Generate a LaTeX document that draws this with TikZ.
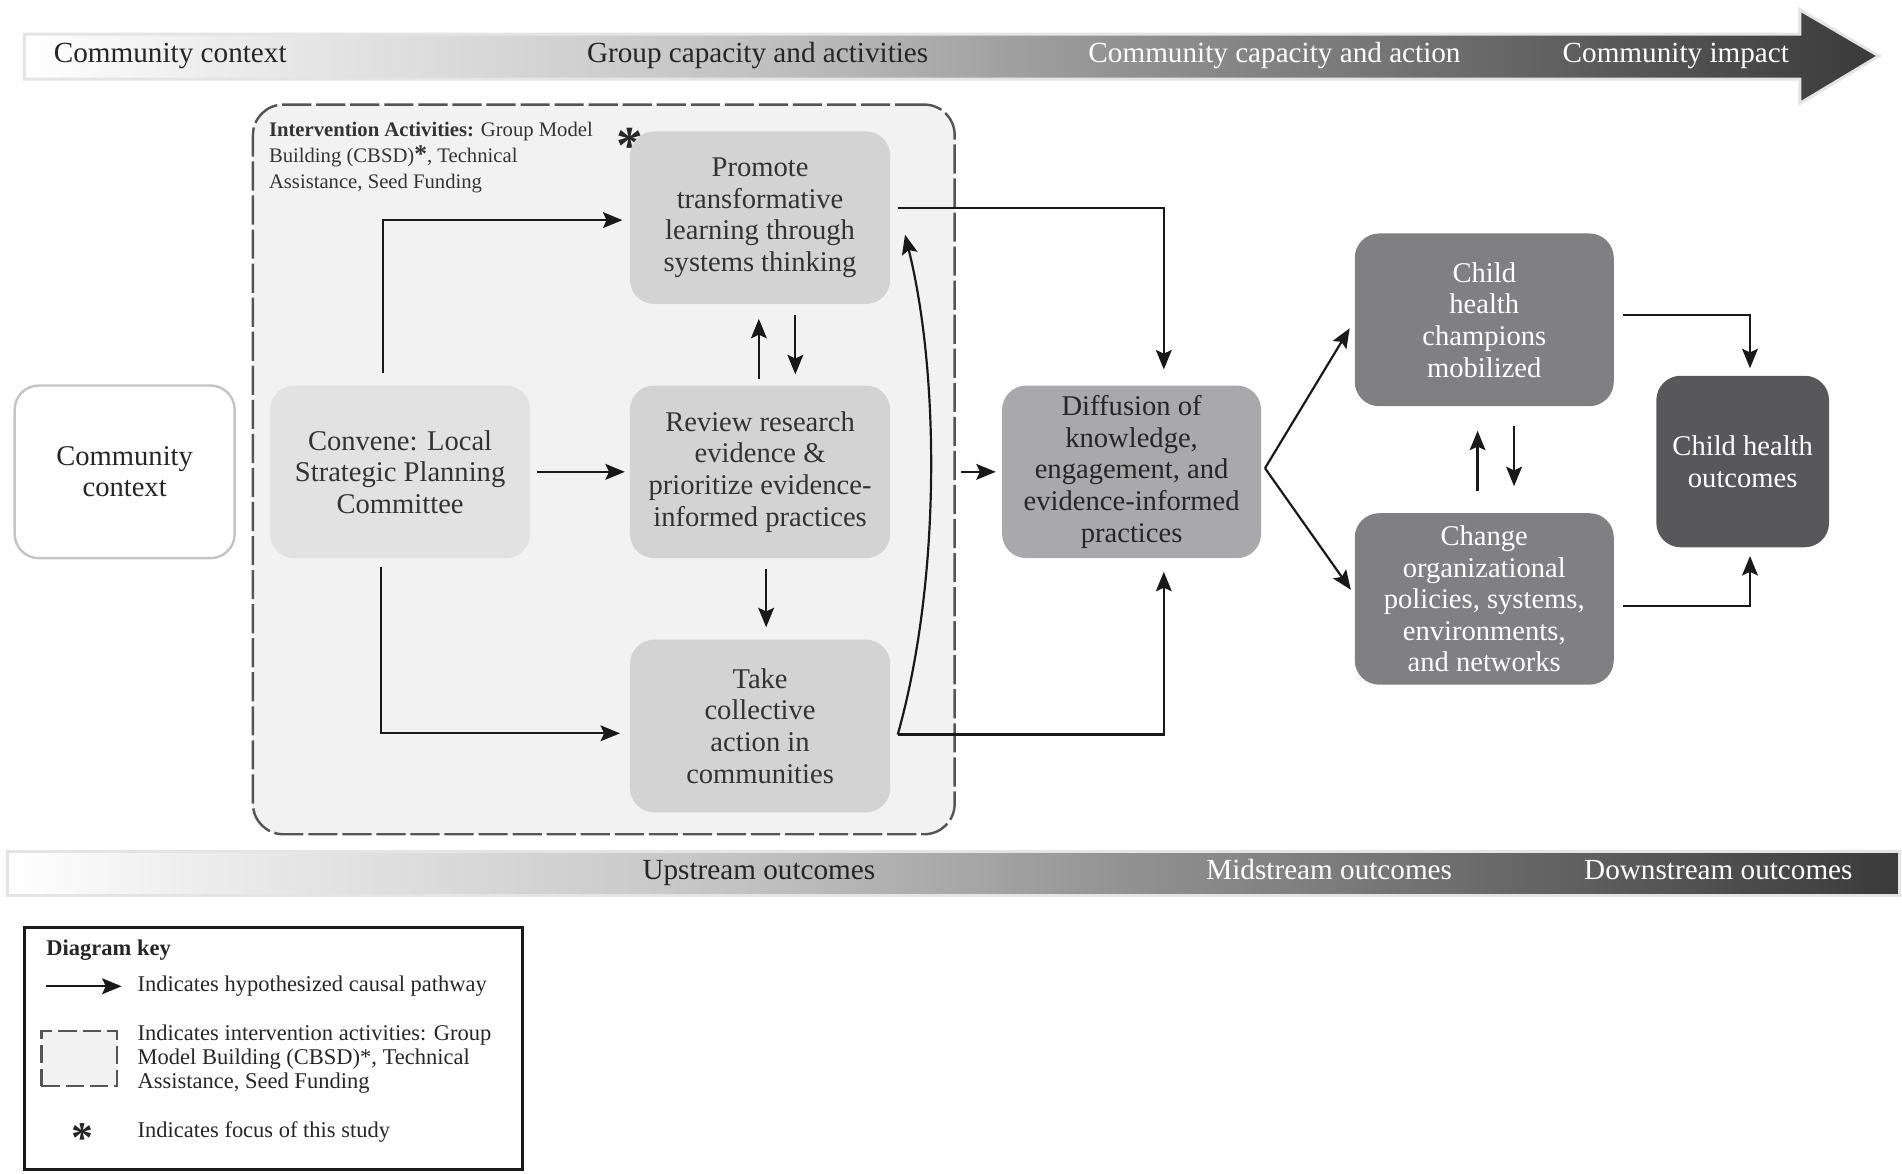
\documentclass[tikz,border=0pt]{standalone}
\usepackage{fontspec}
\setmainfont{Liberation Serif}
\usetikzlibrary{arrows.meta,calc}
\definecolor{sA}{HTML}{EDEDED}
\definecolor{sB}{HTML}{D0D0D0}
\definecolor{sC}{HTML}{C0C0C0}
\definecolor{sD}{HTML}{A8A8A8}
\definecolor{sE}{HTML}{909090}
\definecolor{sF}{HTML}{7C7C7C}
\definecolor{sG}{HTML}{666666}
\definecolor{sH}{HTML}{505050}
\definecolor{sI}{HTML}{3A3A3A}
\definecolor{barline}{HTML}{E4E4E4}
\definecolor{ibfill}{HTML}{F2F2F2}
\definecolor{ibline}{HTML}{555555}
\definecolor{convfill}{HTML}{E2E2E2}
\definecolor{lightfill}{HTML}{D3D3D3}
\definecolor{midfill}{HTML}{A9A9AB}
\definecolor{darkfill}{HTML}{808083}
\definecolor{darkestfill}{HTML}{58585A}
\definecolor{ctxline}{HTML}{C4C4C4}
\definecolor{txtdark}{HTML}{333333}
\pgfdeclarehorizontalshading{barshade}{100bp}{color(0bp)=(white); color(25bp)=(white); color(30bp)=(sA); color(40bp)=(sB); color(45bp)=(sC); color(50bp)=(sD); color(55bp)=(sE); color(60bp)=(sF); color(65bp)=(sG); color(70bp)=(sH); color(75bp)=(sI); color(100bp)=(sI)}
\newcommand\bxfont{\fontsize{23.5}{26}\selectfont}
\newcommand\barfont{\fontsize{24}{26}\selectfont}
\newcommand\hdfont{\fontsize{17}{21.5}\selectfont}
\newcommand\kyfont{\fontsize{18.5}{19.8}\selectfont}
\begin{document}
\begin{tikzpicture}[x=1pt,y=-1pt,
  flowbox/.style={rounded corners=20pt, minimum width=214pt, minimum height=142pt, inner sep=0pt, align=center, font=\bxfont},
  lightbox/.style={flowbox, fill=lightfill, text=txtdark},
  arr/.style={draw=black!90, line width=1.8pt, -{Stealth[length=16pt,width=13pt,inset=3pt]}},
  bartext/.style={font=\barfont, inner sep=0pt, text height=16pt, text depth=5pt},
  keytext/.style={font=\kyfont, anchor=west, inner sep=0pt, align=left, text=black!85}]
\useasboundingbox (0,0) rectangle (1564,965);
% top bar
\shadedraw[shading=barshade, draw=barline, line width=2.5pt, line join=miter]
  (20,28) -- (1480,28) -- (1480,8) -- (1545,46) -- (1480,85) -- (1480,65) -- (20,65) -- cycle;
\node[bartext, text=black!85] (t1) at (140,46) {Community context};
\node[bartext, text=black!85] (t2) at (623,46) {Group capacity and activities};
\node[bartext, text=white] (t3) at (1048,46) {Community capacity and action};
\node[bartext, text=white] (t4) at (1378,46) {Community impact};
% bottom bar
\shadedraw[shading=barshade, draw=barline, line width=2.5pt]
  (6,700) rectangle (1562,736);
\node[bartext, text=black!85] (b1) at (624,718) {Upstream outcomes};
\node[bartext, text=white] (b2) at (1093,718) {Midstream outcomes};
\node[bartext, text=white] (b3) at (1413,718) {Downstream outcomes};
% intervention box
\node[draw=ibline, fill=ibfill, line width=2pt, dash pattern=on 24pt off 4pt, rounded corners=25pt, minimum width=577pt, minimum height=600pt, inner sep=0pt] (ibox) at (496.5,386) {};
\node[anchor=north west, align=left, inner sep=0pt, font=\hdfont, text=black!80] (ihead) at (221,100) {\textbf{Intervention Activities:} Group Model\\Building (CBSD)\textbf{\fontsize{21}{21}\selectfont *}, Technical\\Assistance, Seed Funding};
\node[inner sep=0pt, font=\fontsize{44}{44}\selectfont\bfseries, text=black!85] (istar) at (518,120) {*};
% boxes
\node[flowbox, draw=ctxline, line width=2pt, fill=white, minimum width=181pt, text=black!85] (ctx) at (102.5,388) {Community\\context};
\node[flowbox, fill=convfill, text=txtdark] (conv) at (329,388) {Convene: Local\\Strategic Planning\\Committee};
\node[lightbox] (prom) at (625,179) {Promote\\transformative\\learning through\\systems thinking};
\node[lightbox] (rev) at (625,388) {Review research\\evidence \&\\prioritize evidence-\\informed practices};
\node[lightbox] (take) at (625,597) {Take\\collective\\action in\\communities};
\node[flowbox, fill=midfill, minimum width=213pt, text=black!85] (diff) at (930.5,388) {Diffusion of\\knowledge,\\engagement, and\\evidence-informed\\practices};
\node[flowbox, fill=darkfill, minimum width=213pt, text=white] (champ) at (1220.5,263) {Child\\health\\champions\\mobilized};
\node[flowbox, fill=darkfill, minimum width=213pt, minimum height=141pt, text=white] (change) at (1220.5,492.5) {Change\\organizational\\policies, systems,\\environments,\\and networks};
\node[flowbox, fill=darkestfill, minimum width=142pt, minimum height=141pt, text=white] (outc) at (1433,379.5) {Child health\\outcomes};
% connectors
\draw[arr, line join=miter] ([xshift=-14pt,yshift=10pt]conv.north) |- ([xshift=-6pt,yshift=-2pt]prom.west);
\draw[arr] ([xshift=5pt]conv.east) -- ([xshift=-4pt]rev.west);
\draw[arr, line join=miter] ([xshift=-16pt,yshift=-7pt]conv.south) |- ([xshift=-8pt,yshift=-6pt]take.west);
\draw[arr] ([xshift=-1pt,yshift=5pt]rev.north) -- ([xshift=-1pt,yshift=-12pt]prom.south);
\draw[arr] ([xshift=29pt,yshift=-9pt]prom.south) -- ([xshift=29pt,yshift=9pt]rev.north);
\draw[arr] ([xshift=5pt,yshift=-9pt]rev.south) -- ([xshift=5pt,yshift=10pt]take.north);
\draw[arr, line join=miter] ([xshift=6pt,yshift=8pt]prom.east) -| ([xshift=26.5pt,yshift=13pt]diff.north);
\draw[arr, line join=miter] ([xshift=6pt,yshift=-7pt]take.east) -| ([xshift=26.5pt,yshift=-11pt]diff.south);
\draw[arr] ([xshift=6pt,yshift=-7pt]take.east) .. controls +(35,-124) and +(29,117) .. ([xshift=12pt,yshift=-14pt]prom.east);
\coordinate (ie) at (ibox.east |- diff.west);
\draw[arr] ([xshift=4pt]ie) -- ([xshift=-5pt]diff.west);
\draw[arr] ([xshift=3pt,yshift=3pt]diff.east) -- ([xshift=-4pt,yshift=-7pt]champ.west);
\draw[arr] ([xshift=3pt,yshift=3pt]diff.east) -- ([xshift=-3pt,yshift=7.5pt]change.west);
\draw[arr] ([xshift=-5.5pt,yshift=18pt]change.north) -- ([xshift=-5.5pt,yshift=-20pt]champ.south);
\draw[arr] ([xshift=24.5pt,yshift=-16pt]champ.south) -- ([xshift=24.5pt,yshift=22pt]change.north);
\draw[arr, line join=miter] ([xshift=7pt,yshift=4pt]champ.east) -| ([xshift=6pt,yshift=6pt]outc.north);
\draw[arr, line join=miter] ([xshift=7pt,yshift=-5.5pt]change.east) -| ([xshift=6pt,yshift=-7pt]outc.south);
% key
\node[draw=black!90, line width=2.5pt, minimum width=410pt, minimum height=199pt, inner sep=0pt] (key) at (225,862.5) {};
\node[keytext, font=\kyfont\bfseries] (ktitle) at (38,781) {Diagram key};
\coordinate (ka) at (38,811);
\coordinate (kb) at (100,811);
\draw[arr] (ka) -- (kb);
\node[keytext] (k1) at (113,811) {Indicates hypothesized causal pathway};
\node[draw=ibline, fill=ibfill, line width=2pt, dash pattern=on 15pt off 5pt, minimum width=62pt, minimum height=45pt, inner sep=0pt] (kbox) at (65,870.5) {};
\node[keytext] (k2) at (113,871) {Indicates intervention activities: Group\\Model Building (CBSD)*, Technical\\Assistance, Seed Funding};
\node[inner sep=0pt, font=\fontsize{36}{36}\selectfont\bfseries, text=black!85] (kstar) at (68,936) {*};
\node[keytext] (k3) at (113,931) {Indicates focus of this study};
\end{tikzpicture}
\end{document}
